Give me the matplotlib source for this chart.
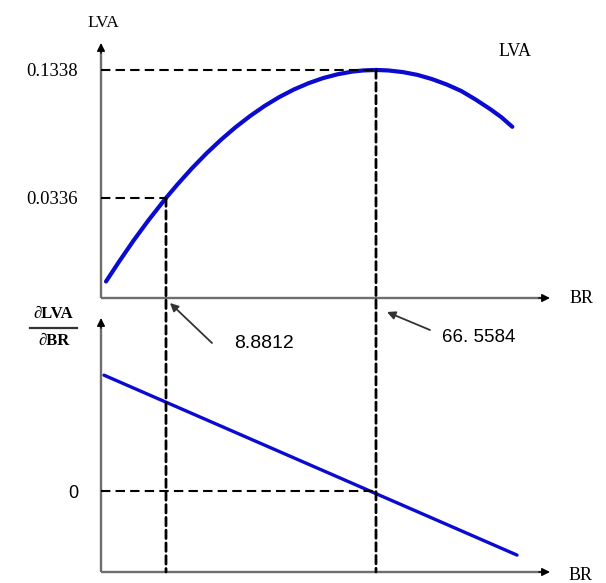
import matplotlib
matplotlib.use("Agg")
import matplotlib.pyplot as plt
from matplotlib.patches import ConnectionPatch, FancyArrowPatch

# ---- data ----
br_curve = [-7.6, -4, 0, 4, 8.8812, 12, 16, 20, 24, 28, 32, 36, 40, 44, 48, 52,
            56, 60, 63, 66.5584, 70, 74, 78, 82, 86, 90, 94, 98, 101, 104]
lva_curve = [-0.0318, -0.0162, 0.0004, 0.0159, 0.0336, 0.0441, 0.0568, 0.0685,
             0.0792, 0.0890, 0.0978, 0.1057, 0.1126, 0.1185, 0.1234, 0.1274,
             0.1304, 0.1325, 0.1334, 0.1338, 0.1334, 0.1321, 0.1299, 0.1266,
             0.1224, 0.1173, 0.1105, 0.1030, 0.0968, 0.0893]
br_line = [-8.15, 105.3]
dlva_line = [0.00452, -0.0025]
br_marks = [8.8812, 66.5584]
br_mark_labels = ["8.8812", "66. 5584"]
lva_marks = [0.0336, 0.1338]
lva_mark_labels = ["0.0336", "0.1338"]
deriv_zero = [0]
deriv_zero_labels = ["0"]

W, H = 606, 583
fig = plt.figure(figsize=(W / 100, H / 100), dpi=100)


def fx(px):
    return px / W


def fy(py):
    return 1 - py / H


serif = ["Liberation Serif", "DejaVu Serif"]
sans = ["Liberation Sans", "DejaVu Sans"]
blue = "#0a0ad0"
axcol = "#6e6e6e"

# axes placement (pixels): top panel x 101..550, y 43..298 ; bottom x 101..550, y 318..572
ax1 = fig.add_axes([fx(101), fy(298), fx(550) - fx(101), fy(43) - fy(298)])
ax2 = fig.add_axes([fx(101), fy(572), fx(550) - fx(101), fy(318) - fy(572)])
ax1.set_xlim(-8.97, 114.35)
ax1.set_ylim(-0.0447, 0.1549)
ax2.set_xlim(-8.97, 114.35)
ax2.set_ylim(-0.00316, 0.00675)

for ax in (ax1, ax2):
    ax.patch.set_alpha(0)
    for s in ax.spines.values():
        s.set_visible(False)
    ax.set_xticks([])
    ax.plot([0, 0.985], [0, 0], transform=ax.transAxes, color=axcol, lw=1.7,
            clip_on=False, solid_capstyle="butt")
    ax.plot([0, 0], [0, 0.975], transform=ax.transAxes, color=axcol, lw=1.7,
            clip_on=False, solid_capstyle="butt")
    ax.annotate("", xy=(1, 0), xytext=(0.975, 0), xycoords="axes fraction",
                arrowprops=dict(arrowstyle="-|>", color="black", lw=1.0,
                                mutation_scale=12, shrinkA=0, shrinkB=0))
    ax.annotate("", xy=(0, 1), xytext=(0, 0.96), xycoords="axes fraction",
                arrowprops=dict(arrowstyle="-|>", color="black", lw=1.0,
                                mutation_scale=12, shrinkA=0, shrinkB=0))

# top panel
ax1.plot(br_curve, lva_curve, color=blue, lw=3.0, solid_capstyle="round",
         solid_joinstyle="round", clip_on=False)
ax1.set_yticks(lva_marks)
ax1.set_yticklabels(lva_mark_labels, family=serif, fontsize=13.5)
ax1.tick_params(axis="y", length=0, pad=17)
hdash = (0, (4.5, 2.5))
vdash = (0, (3.0, 1.6))
x0 = ax1.get_xlim()[0]
ax1.plot([x0, br_marks[0]], [lva_marks[0], lva_marks[0]], color="black", lw=1.5, ls=hdash)
ax1.plot([x0, br_marks[1]], [lva_marks[1], lva_marks[1]], color="black", lw=1.5, ls=hdash)

# bottom panel
ax2.plot(br_line, dlva_line, color=blue, lw=2.4, solid_capstyle="round", clip_on=False)
ax2.set_yticks(deriv_zero)
ax2.set_yticklabels(deriv_zero_labels, family=sans, fontsize=13)
ax2.tick_params(axis="y", length=0, pad=16)
ax2.plot([ax2.get_xlim()[0], br_marks[1]], [0, 0], color="black", lw=1.5, ls=hdash)

# vertical dashed lines through both panels
yb = ax2.get_ylim()[0]
for bx, ly in zip(br_marks, lva_marks):
    con = ConnectionPatch(xyA=(bx, ly), coordsA=ax1.transData,
                          xyB=(bx, yb), coordsB=ax2.transData,
                          color="black", lw=2.0, linestyle=vdash)
    fig.add_artist(con)

# labels
fig.text(fx(103), fy(23), "LVA", family=serif, fontsize=12.5, ha="center", va="center")
fig.text(fx(515), fy(52), "LVA", family=serif, fontsize=13, ha="center", va="center")
fig.text(fx(582), fy(299), "BR", family=serif, fontsize=13, ha="center", va="center")
fig.text(fx(581), fy(575), "BR", family=serif, fontsize=13, ha="center", va="center")
fig.text(fx(53), fy(314), "\u2202LVA", family=serif, fontsize=12, weight="bold",
         ha="center", va="center")
fig.add_artist(plt.Line2D([fx(30), fx(77)], [fy(328), fy(328)], color="#333333", lw=1.6))
fig.text(fx(54), fy(341), "\u2202BR", family=serif, fontsize=12, weight="bold",
         ha="center", va="center")

# annotations with arrows
fig.text(fx(264), fy(343), br_mark_labels[0], family=sans, fontsize=14, ha="center", va="center")
fig.text(fx(479), fy(338), br_mark_labels[1], family=sans, fontsize=13.5, ha="center", va="center")
fig.add_artist(FancyArrowPatch(
    (fx(212), fy(343)), (fx(170), fy(303)), transform=fig.transFigure,
    arrowstyle="-|>", mutation_scale=12, lw=1.3, color="#333333", shrinkA=0, shrinkB=0))
fig.add_artist(FancyArrowPatch(
    (fx(430), fy(330)), (fx(387), fy(312)), transform=fig.transFigure,
    arrowstyle="-|>", mutation_scale=12, lw=1.3, color="#333333", shrinkA=0, shrinkB=0))

fig.savefig("out.png", dpi=100)
